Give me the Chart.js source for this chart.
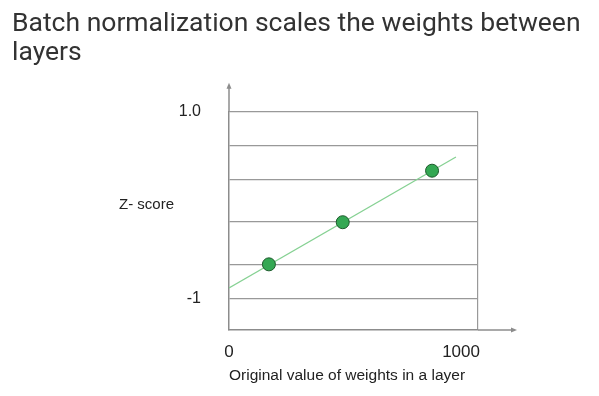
<!DOCTYPE html>
<html>
<head>
<meta charset="utf-8">
<script src="https://cdn.jsdelivr.net/npm/chart.js@4.4.1/dist/chart.umd.min.js"></script>
<style>
  html, body { margin: 0; padding: 0; background: #fff; }
  #wrap { position: relative; width: 599px; height: 396px; }
  #title {
    position: absolute; left: 12px; top: 7px;
    font-family: Roboto, sans-serif; font-size: 26.5px; line-height: 29px;
    color: #333; white-space: nowrap;
  }
  canvas { position: absolute; left: 0; top: 0; }
</style>
</head>
<body>
<div id="wrap">
  <canvas id="chart" width="599" height="396"></canvas>
  <div id="title">Batch normalization scales the weights between<br>layers</div>
</div>
<script>
// Batch norm slide - z-score vs original weight value

// axis ticks
const xTickValues = [0, 1000, 1073];
const xTickLabels = ['0', '1000', ''];
const yTickValues = [1.0, 0.634, 0.271, -0.175, -0.637, -1.0];
const yTickLabels = ['1.0', '', '', '', '', '-1'];

// points on the chart
const pointX = [172, 490, 875];
const pointY = [-0.63, -0.18, 0.37];

// fitted line
const lineX = [0, 978];
const lineY = [-0.883, 0.516];

const axisColor = '#8c8c8c';
const labelFont = '"Liberation Sans", Arial, sans-serif';

const arrowPlugin = {
  id: 'arrows',
  afterDraw(chart) {
    const { ctx, chartArea } = chart;
    const { left, top, right, bottom } = chartArea;
    ctx.save();
    ctx.strokeStyle = axisColor;
    ctx.fillStyle = axisColor;
    ctx.lineWidth = 1.5;
    // y axis extension
    ctx.beginPath();
    ctx.moveTo(left, top);
    ctx.lineTo(left, top - 26);
    ctx.stroke();
    ctx.beginPath();
    ctx.moveTo(left, top - 29);
    ctx.lineTo(left - 2.5, top - 23);
    ctx.lineTo(left + 2.5, top - 23);
    ctx.closePath();
    ctx.fill();
    // x axis extension
    ctx.beginPath();
    ctx.moveTo(right, bottom);
    ctx.lineTo(right + 36, bottom);
    ctx.stroke();
    ctx.beginPath();
    ctx.moveTo(right + 39, bottom);
    ctx.lineTo(right + 33, bottom - 2.5);
    ctx.lineTo(right + 33, bottom + 2.5);
    ctx.closePath();
    ctx.fill();
    // y axis name
    const y = chart.scales.y.getPixelForValue(0);
    ctx.fillStyle = '#222';
    ctx.font = '15px ' + labelFont;
    ctx.textAlign = 'right';
    ctx.textBaseline = 'middle';
    ctx.fillText('Z- score', left - 55, y);
    ctx.restore();
  }
};

const ctx = document.getElementById('chart').getContext('2d');
new Chart(ctx, {
  type: 'scatter',
  data: {
    datasets: [
      {
        type: 'line',
        data: lineX.map((x, i) => ({ x: x, y: lineY[i] })),
        borderColor: '#86d193',
        borderWidth: 1.3,
        pointRadius: 0,
        fill: false,
        order: 2
      },
      {
        data: pointX.map((x, i) => ({ x: x, y: pointY[i] })),
        backgroundColor: '#34a853',
        borderColor: '#1d5a2c',
        borderWidth: 1,
        pointRadius: 6.5,
        pointHoverRadius: 6.5,
        order: 1
      }
    ]
  },
  options: {
    responsive: false,
    animation: false,
    events: [],
    layout: { padding: { left: 169, right: 121, top: 111.7, bottom: 10.6 } },
    plugins: {
      legend: { display: false },
      tooltip: { enabled: false }
    },
    scales: {
      x: {
        type: 'linear',
        min: 0,
        max: 1073,
        afterBuildTicks: (scale) => { scale.ticks = xTickValues.map(v => ({ value: v })); },
        afterFit: (scale) => { scale.height = 55.4; },
        grid: {
          drawTicks: false,
          lineWidth: 1.2,
          color: (c) => (c.tick && c.tick.value === 1073 ? '#999' : 'rgba(0,0,0,0)')
        },
        border: { color: axisColor, width: 1.5 },
        ticks: {
          padding: 12,
          maxRotation: 0,
          autoSkip: false,
          color: '#222',
          font: { family: labelFont, size: 17 },
          callback: (v, i) => xTickLabels[i]
        },
        title: {
          display: true,
          text: 'Original value of weights in a layer',
          align: 'start',
          color: '#222',
          font: { family: labelFont, size: 15.5 },
          padding: { top: 0, bottom: 0 }
        }
      },
      y: {
        type: 'linear',
        min: -1.331,
        max: 1.0,
        afterBuildTicks: (scale) => { scale.ticks = yTickValues.map(v => ({ value: v })); },
        afterFit: (scale) => { scale.width = 60; },
        grid: {
          drawTicks: false,
          lineWidth: 1.2,
          color: '#999'
        },
        border: { color: axisColor, width: 1.5 },
        ticks: {
          padding: 28,
          autoSkip: false,
          color: '#222',
          font: { family: labelFont, size: 16 },
          callback: (v, i) => yTickLabels[i]
        }
      }
    }
  },
  plugins: [arrowPlugin]
});
</script>
</body>
</html>
